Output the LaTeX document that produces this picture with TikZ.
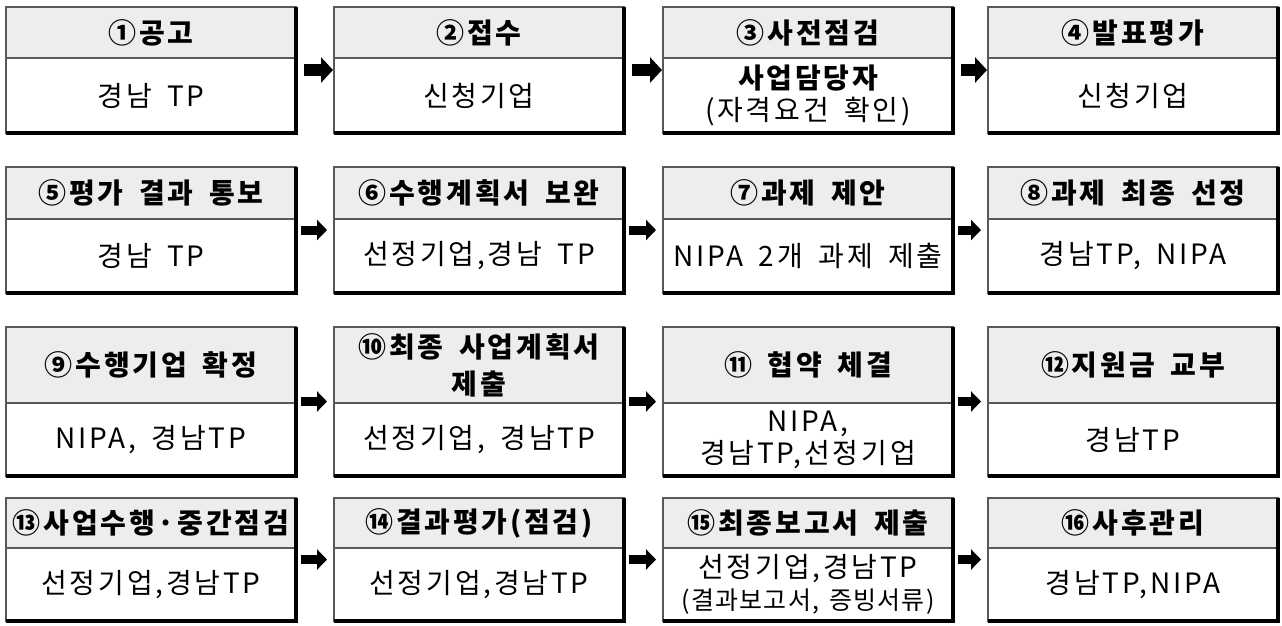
\documentclass[tikz,border=0pt]{standalone}
\usepackage{fontspec}
\setmainfont{Noto Sans CJK KR}[LetterSpace=10,WordSpace=1.7]
\newfontfamily\narrowko{Noto Sans CJK KR}[LetterSpace=5,WordSpace=1.4]
\usetikzlibrary{positioning,fit,arrows.meta}

\begin{document}
\begin{tikzpicture}[x=1pt,y=-1pt,
  head/.style={anchor=north,fill=black!7,draw=black!65,line width=1.2pt,minimum width=290pt,
    inner sep=0pt,outer sep=0pt,align=center,font=\fontsize{28pt}{37pt}\selectfont\bfseries},
  body/.style={draw=black!65,line width=1.2pt,minimum width=290pt,inner sep=0pt,outer sep=0pt,
    align=center,font=\fontsize{28pt}{32pt}\selectfont},
  rim/.style={line width=3.6pt},
  flow/.style={-{Triangle[length=10pt,width=20pt]},line width=9pt,shorten <=5pt,shorten >=7pt},
  bigflow/.style={-{Triangle[length=12pt,width=25pt]},line width=12pt,shorten <=8pt,shorten >=1pt}]
\useasboundingbox (0,0) rectangle (1282,625);

% row 1
\node[head,minimum height=51pt] (h1) at (151,7) {①공고};
\node[body,minimum height=75pt,below=0pt of h1] (b1) {경남 TP};
\node[head,minimum height=51pt] (h2) at (479,7) {②접수};
\node[body,minimum height=75pt,below=0pt of h2] (b2) {신청기업};
\node[head,minimum height=51pt] (h3) at (808,7) {③사전점검};
\node[body,minimum height=75pt,below=0pt of h3] (b3) {{\bfseries 사업담당자}\\(자격요건 확인)};
\node[head,minimum height=51pt] (h4) at (1133,7) {④발표평가};
\node[body,minimum height=75pt,below=0pt of h4] (b4) {신청기업};

% row 2
\node[head,minimum height=52pt] (h5) at (151,167) {⑤평가 결과 통보};
\node[body,minimum height=74pt,below=0pt of h5] (b5) {경남 TP};
\node[head,minimum height=52pt] (h6) at (479,167) {⑥수행계획서 보완};
\node[body,minimum height=74pt,below=0pt of h6] (b6) {선정기업,경남 TP};
\node[head,minimum height=52pt] (h7) at (808,167) {⑦과제 제안};
\node[body,minimum height=74pt,below=0pt of h7] (b7) {NIPA 2개 과제 제출};
\node[head,minimum height=52pt] (h8) at (1133,167) {⑧과제 최종 선정};
\node[body,minimum height=74pt,below=0pt of h8] (b8) {경남TP, NIPA};

% row 3
\node[head,minimum height=76pt] (h9) at (151,327) {⑨수행기업 확정};
\node[body,minimum height=73pt,below=0pt of h9] (b9) {NIPA, 경남TP};
\node[head,minimum height=76pt] (h10) at (479,327) {⑩최종 사업계획서\\제출};
\node[body,minimum height=73pt,below=0pt of h10] (b10) {선정기업, 경남TP};
\node[head,minimum height=76pt] (h11) at (808,327) {⑪ 협약 체결};
\node[body,minimum height=73pt,below=0pt of h11] (b11) {NIPA,\\경남TP,선정기업};
\node[head,minimum height=76pt] (h12) at (1133,327) {⑫지원금 교부};
\node[body,minimum height=73pt,below=0pt of h12] (b12) {경남TP};

% row 4
\node[head,minimum height=50pt] (h13) at (151,498) {⑬사업수행·중간점검};
\node[body,minimum height=73pt,below=0pt of h13] (b13) {선정기업,경남TP};
\node[head,minimum height=50pt] (h14) at (479,498) {⑭결과평가(점검)};
\node[body,minimum height=73pt,below=0pt of h14] (b14) {선정기업,경남TP};
\node[head,minimum height=50pt] (h15) at (808,498) {⑮최종보고서 제출};
\node[body,minimum height=73pt,below=0pt of h15] (b15) {선정기업,경남TP\\{\narrowko\fontsize{25pt}{30pt}\selectfont (결과보고서, 증빙서류)}};
\node[head,minimum height=50pt] (h16) at (1133,498) {⑯사후관리};
\node[body,minimum height=73pt,below=0pt of h16] (b16) {경남TP,NIPA};

\foreach \i in {1,...,16}
  \node[inner sep=0pt,outer sep=0pt,fit=(h\i)(b\i)] (s\i) {};
\foreach \i in {1,...,16}
  \draw[rim] (s\i.north east) -- (s\i.south east) -- (s\i.south west);

\foreach \from/\to in {1/2,2/3,3/4}
  \draw[bigflow] (s\from) -- (s\to);
\foreach \from/\to in {5/6,6/7,7/8,9/10,10/11,11/12,13/14,14/15,15/16}
  \draw[flow] (s\from) -- (s\to);
\end{tikzpicture}
\end{document}
